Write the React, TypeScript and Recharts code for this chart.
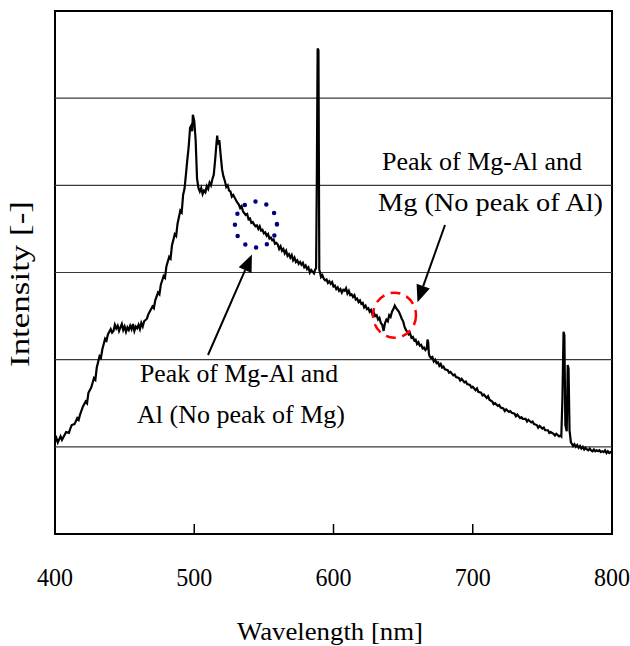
import React from "react";
import {
  LineChart,
  Line,
  XAxis,
  YAxis,
  ReferenceLine,
  ReferenceArea,
} from "recharts";

// ---- Data (wavelength nm, intensity in grid units) ----
const spectrumPoints: [number, number][] = [
  [400, 1.06], [401, 1.1], [402, 1.05], [404, 1.12], [405, 1.08], [406, 1.11], [408, 1.17], [410, 1.16],
  [411, 1.21], [412, 1.25], [414, 1.26], [416, 1.33], [417, 1.31], [418, 1.37], [420, 1.46], [422, 1.52],
  [423, 1.5], [424, 1.62], [426, 1.68], [428, 1.79], [429, 1.77], [430, 1.91], [432, 2.04], [433, 2.02],
  [434, 2.12], [436, 2.24], [437, 2.22], [438, 2.29], [440, 2.35], [441, 2.31], [442, 2.33], [443, 2.4],
  [444, 2.36], [445, 2.39], [446, 2.33], [447, 2.37], [448, 2.41], [449, 2.34], [450, 2.38], [451, 2.32],
  [452, 2.37], [453, 2.34], [454, 2.39], [455, 2.35], [456, 2.41], [457, 2.33], [458, 2.38], [459, 2.36],
  [460, 2.4], [461, 2.35], [462, 2.42], [463, 2.38], [464, 2.44], [466, 2.47], [467, 2.52], [468, 2.55],
  [470, 2.61], [471, 2.59], [472, 2.68], [474, 2.77], [475, 2.75], [476, 2.86], [478, 2.96], [479, 2.94],
  [480, 3.07], [482, 3.18], [483, 3.16], [484, 3.31], [486, 3.44], [487, 3.42], [488, 3.56], [490, 3.71],
  [491, 3.69], [492, 3.89], [493, 3.96], [494, 4.12], [495, 4.29], [496, 4.44], [497, 4.66], [498, 4.69],
  [498.5, 4.62], [499, 4.81], [500, 4.74], [501, 4.52], [502, 4.08], [503, 3.97], [504, 3.93], [505, 3.97],
  [506, 3.9], [507, 3.94], [508, 3.92], [509, 3.99], [510, 3.96], [511, 4.03], [512, 4.0], [513, 4.07],
  [514, 4.12], [515, 4.29], [516, 4.49], [516.5, 4.57], [517, 4.47], [518, 4.52], [519, 4.34], [520, 4.18],
  [521, 4.1], [522, 4.05], [523, 3.98], [524, 4.0], [525, 3.94], [526, 3.93], [527, 3.87], [528, 3.89],
  [530, 3.83], [531, 3.8], [532, 3.78], [533, 3.74], [534, 3.76], [535, 3.7], [536, 3.68], [537, 3.66],
  [538, 3.67], [539, 3.61], [540, 3.62], [541, 3.57], [542, 3.58], [543, 3.55], [544, 3.53], [545, 3.54],
  [546, 3.5], [547, 3.53], [548, 3.48], [549, 3.49], [550, 3.45], [551, 3.46], [552, 3.42], [553, 3.44],
  [554, 3.39], [555, 3.4], [556, 3.37], [557, 3.38], [558, 3.33], [559, 3.34], [560, 3.32], [561, 3.27],
  [562, 3.3], [563, 3.25], [564, 3.27], [565, 3.22], [566, 3.25], [567, 3.19], [568, 3.21], [569, 3.17],
  [570, 3.2], [571, 3.14], [572, 3.17], [573, 3.12], [574, 3.14], [575, 3.1], [576, 3.12], [577, 3.09],
  [578, 3.11], [579, 3.06], [580, 3.08], [581, 3.04], [582, 3.06], [583, 3.0], [584, 3.03], [585, 3.01],
  [586, 2.99], [587, 3.04], [587.5, 3.05], [588, 4.02], [588.6, 5.57], [589.2, 5.55], [589.8, 3.03], [590.5, 2.99],
  [591, 2.95], [592, 2.97], [593, 2.93], [594, 2.91], [595, 2.92], [596, 2.88], [597, 2.9], [598, 2.87],
  [599, 2.89], [600, 2.84], [601, 2.85], [602, 2.81], [603, 2.83], [604, 2.79], [605, 2.81], [606, 2.77],
  [607, 2.8], [608, 2.79], [609, 2.82], [610, 2.76], [611, 2.79], [612, 2.74], [613, 2.75], [614, 2.72],
  [615, 2.74], [616, 2.69], [617, 2.7], [618, 2.66], [619, 2.68], [620, 2.64], [621, 2.65], [622, 2.6],
  [623, 2.62], [624, 2.58], [625, 2.59], [626, 2.55], [627, 2.57], [628, 2.52], [629, 2.54], [630, 2.5],
  [631, 2.51], [632, 2.46], [633, 2.48], [634, 2.42], [635, 2.4], [636, 2.33], [637, 2.42], [638, 2.46],
  [639, 2.44], [640, 2.51], [641, 2.49], [642, 2.55], [643, 2.58], [644, 2.62], [645, 2.59], [646, 2.57],
  [647, 2.55], [648, 2.51], [649, 2.47], [650, 2.44], [651, 2.38], [652, 2.34], [653, 2.32], [654, 2.29],
  [655, 2.3], [656, 2.25], [657, 2.26], [658, 2.22], [659, 2.23], [660, 2.18], [661, 2.2], [662, 2.16],
  [663, 2.17], [664, 2.13], [665, 2.14], [666, 2.11], [667, 2.13], [667.5, 2.23], [668, 2.2], [668.5, 2.07],
  [669, 2.04], [670, 2.02], [671, 2.03], [672, 1.98], [673, 2.0], [674, 1.96], [675, 1.97], [676, 1.93],
  [677, 1.95], [678, 1.91], [679, 1.92], [680, 1.89], [682, 1.88], [683, 1.85], [684, 1.86], [686, 1.82],
  [687, 1.83], [688, 1.8], [690, 1.79], [691, 1.76], [692, 1.78], [694, 1.74], [695, 1.75], [696, 1.72],
  [698, 1.71], [699, 1.68], [700, 1.69], [702, 1.65], [703, 1.67], [704, 1.63], [706, 1.62], [707, 1.59],
  [708, 1.6], [710, 1.56], [711, 1.58], [712, 1.54], [714, 1.52], [715, 1.49], [716, 1.5], [718, 1.47],
  [719, 1.48], [720, 1.45], [722, 1.44], [723, 1.41], [724, 1.43], [726, 1.4], [727, 1.41], [728, 1.39],
  [730, 1.38], [731, 1.35], [732, 1.37], [734, 1.33], [735, 1.34], [736, 1.32], [738, 1.32], [739, 1.29],
  [740, 1.31], [742, 1.28], [743, 1.29], [744, 1.26], [746, 1.25], [747, 1.22], [748, 1.24], [750, 1.21],
  [751, 1.22], [752, 1.19], [754, 1.19], [755, 1.16], [756, 1.17], [758, 1.15], [759, 1.13], [760, 1.15],
  [762, 1.12], [763, 1.13], [763.6, 1.12], [764.4, 1.55], [765.2, 2.32], [765.8, 2.28], [766.5, 1.25], [767.5, 1.18],
  [768.2, 1.94], [768.8, 1.9], [769.5, 1.19], [770.5, 1.05], [771, 1.04], [772, 1.01], [773, 1.03], [774, 1.0],
  [775, 1.02], [776, 0.99], [777, 1.01], [778, 0.98], [779, 1.0], [780, 0.97], [781, 0.99], [782, 0.97],
  [783, 0.96], [784, 0.98], [785, 0.96], [786, 0.95], [787, 0.97], [788, 0.95], [789, 0.96], [790, 0.95],
  [791, 0.96], [792, 0.94], [793, 0.95], [794, 0.94], [795, 0.96], [796, 0.93], [797, 0.95], [798, 0.93],
  [799, 0.94], [800, 0.93],
];

const xTicks = [400, 500, 600, 700, 800];
const gridValues = [1, 2, 3, 4, 5];
const xDomain: [number, number] = [400, 800];
const yDomain: [number, number] = [0, 6];

const xAxisTitle = "Wavelength [nm]";
const yAxisTitle = "Intensity [-]";
const noteRight = ["Peak of Mg-Al and", "Mg (No peak of Al)"];
const noteLeft = ["Peak of Mg-Al and", "Al (No peak of Mg)"];

// annotation anchors in data coordinates
const blueCircle = { nm: 544.3, v: 3.55 };
const redCircle = { nm: 643.8, v: 2.51 };

// ---- Layout ----
const W = 630;
const H = 646;
const PLOT_LEFT = 55;
const PLOT_RIGHT = 612;
const PLOT_TOP = 11;
const PLOT_BOTTOM = 534;
const FONT =
  "'Liberation Serif', 'Times New Roman', Times, 'Noto Serif', 'Nimbus Roman', 'Nimbus Roman No9 L', FreeSerif, Tinos, 'DejaVu Serif', serif";

const data = spectrumPoints.map(([nm, v]) => ({ nm, v }));

const px = (nm: number) =>
  PLOT_LEFT + ((nm - xDomain[0]) / (xDomain[1] - xDomain[0])) * (PLOT_RIGHT - PLOT_LEFT);
const py = (v: number) =>
  PLOT_BOTTOM - ((v - yDomain[0]) / (yDomain[1] - yDomain[0])) * (PLOT_BOTTOM - PLOT_TOP);

const XTick = (props: any) => {
  const { x, y, payload } = props;
  return (
    <g>
      <line x1={x} x2={x} y1={y} y2={y - 10} stroke="#000" strokeWidth={1.5} />
      <text
        x={x}
        y={y + 52}
        textAnchor="middle"
        fontFamily={FONT}
        style={{ fontFamily: FONT, fontSize: 25 }}
        fill="#000"
        textLength={36}
        lengthAdjust="spacingAndGlyphs"
      >
        {payload.value}
      </text>
    </g>
  );
};

const Arrow = ({ x1, y1, x2, y2 }: { x1: number; y1: number; x2: number; y2: number }) => {
  const dx = x2 - x1;
  const dy = y2 - y1;
  const len = Math.sqrt(dx * dx + dy * dy);
  const ux = dx / len;
  const uy = dy / len;
  const headLen = 17;
  const headW = 7;
  const bx = x2 - ux * headLen;
  const by = y2 - uy * headLen;
  return (
    <g>
      <line x1={x1} y1={y1} x2={bx} y2={by} stroke="#000" strokeWidth={2} />
      <polygon
        points={`${x2},${y2} ${bx - uy * headW},${by + ux * headW} ${bx + uy * headW},${by - ux * headW}`}
        fill="#000"
      />
    </g>
  );
};

const Overlay = () => {
  const bx = px(blueCircle.nm);
  const by = py(blueCircle.v);
  const rx = px(redCircle.nm);
  const ry = py(redCircle.v);
  const common = {
    fill: "#000",
    lengthAdjust: "spacingAndGlyphs" as const,
    fontFamily: FONT,
    style: { fontFamily: FONT, fontSize: 26 },
  };
  return (
    <svg
      width={W}
      height={H}
      style={{ position: "absolute", left: 0, top: 0, pointerEvents: "none" }}
    >
      {/* axis titles */}
      <text x={330} y={640} textAnchor="middle" textLength={186} {...common}>
        {xAxisTitle}
      </text>
      <text
        x={0}
        y={0}
        textAnchor="middle"
        textLength={166}
        transform="translate(29,284) rotate(-90)"
        fill="#000"
        lengthAdjust="spacingAndGlyphs"
        fontFamily={FONT}
        style={{ fontFamily: FONT, fontSize: 28 }}
      >
        {yAxisTitle}
      </text>

      {/* circles */}
      <ellipse
        cx={bx}
        cy={by}
        rx={21}
        ry={23}
        fill="none"
        stroke="#000080"
        strokeWidth={4.5}
        strokeLinecap="round"
        strokeDasharray="0 11.4"
      />
      <ellipse
        cx={rx}
        cy={ry}
        rx={21.5}
        ry={22.5}
        fill="none"
        stroke="#ff0000"
        strokeWidth={2.5}
        strokeDasharray="10 6.5"
      />

      {/* arrows */}
      <Arrow x1={208} y1={355} x2={bx - 4} y2={by + 30} />
      <Arrow x1={445} y1={225} x2={rx + 23} y2={ry - 13} />

      {/* notes */}
      <text x={382} y={170} textLength={200} {...common}>
        {noteRight[0]}
      </text>
      <text x={378} y={211} textLength={225} {...common}>
        {noteRight[1]}
      </text>
      <text x={140} y={382} textLength={198} {...common}>
        {noteLeft[0]}
      </text>
      <text x={137} y={423} textLength={208} {...common}>
        {noteLeft[1]}
      </text>
    </svg>
  );
};

export default function App() {
  return (
    <div style={{ position: "absolute", left: 0, top: 0, width: W, height: H, background: "#fff" }}>
      <LineChart
        width={W}
        height={H}
        data={data}
        margin={{ top: PLOT_TOP, right: W - PLOT_RIGHT, left: PLOT_LEFT, bottom: 0 }}
      >
        <XAxis
          dataKey="nm"
          type="number"
          domain={xDomain}
          ticks={xTicks}
          allowDataOverflow
          height={H - PLOT_BOTTOM}
          axisLine={false}
          tickLine={false}
          tickSize={0}
          tickMargin={0}
          tick={<XTick />}
          interval={0}
        />
        <YAxis type="number" domain={yDomain} hide allowDataOverflow />
        {gridValues.map((g) => (
          <ReferenceLine key={g} y={g} stroke="#3a3a3a" strokeWidth={1.2} />
        ))}
        <ReferenceArea
          x1={xDomain[0]}
          x2={xDomain[1]}
          y1={yDomain[0]}
          y2={yDomain[1]}
          fill="none"
          fillOpacity={0}
          stroke="#000"
          strokeWidth={2}
        />
        <Line
          dataKey="v"
          type="linear"
          stroke="#000"
          strokeWidth={2.2}
          dot={false}
          activeDot={false}
          isAnimationActive={false}
        />
      </LineChart>
      <Overlay />
    </div>
  );
}
